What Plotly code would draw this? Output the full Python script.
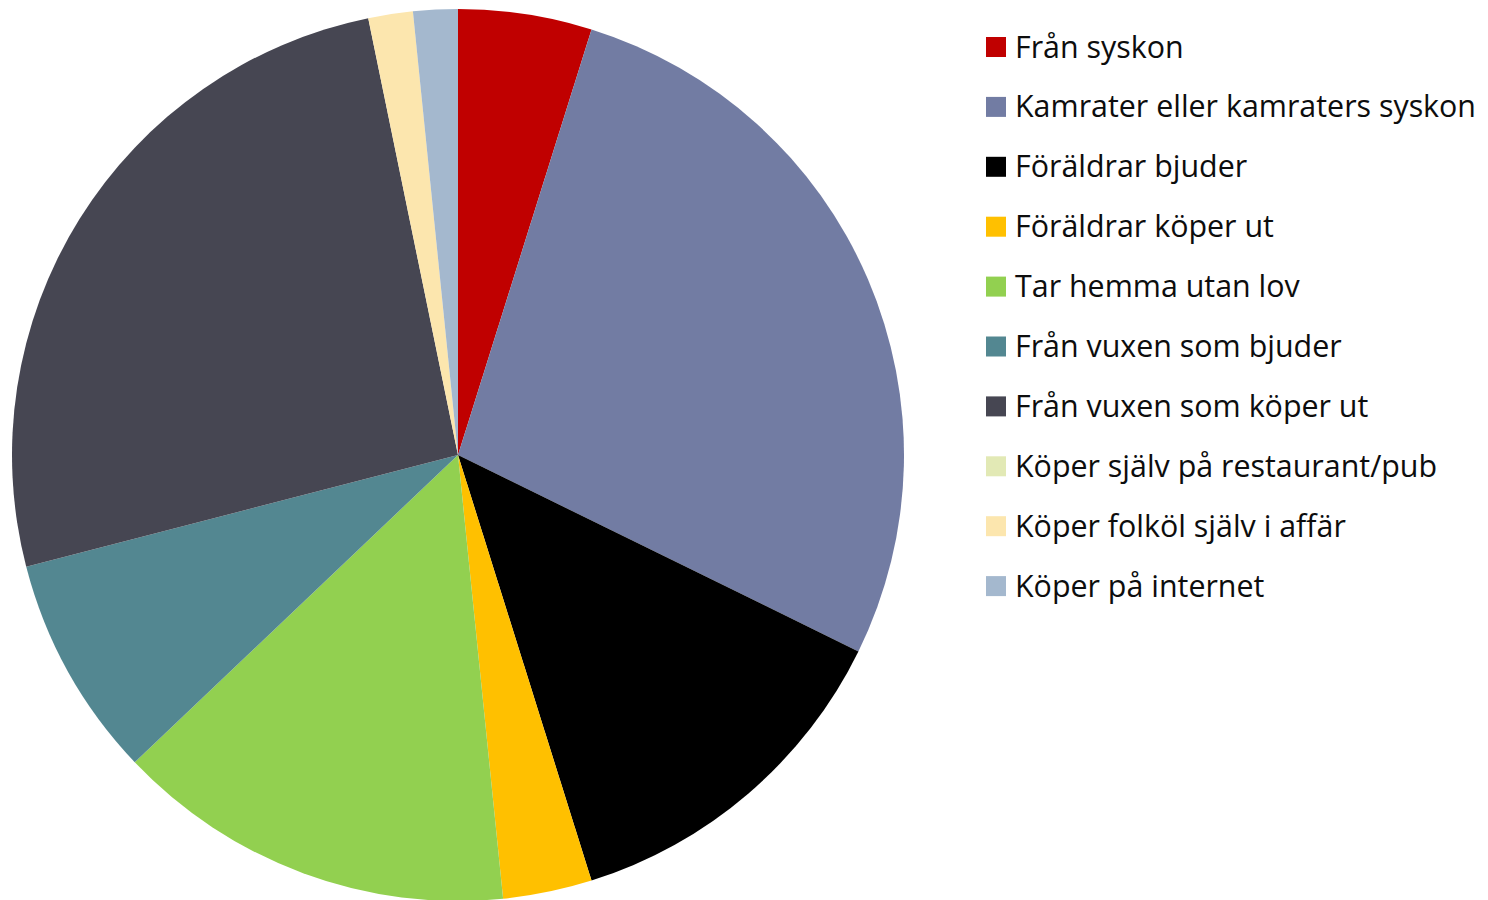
import plotly.graph_objects as go

labels = ["Från syskon", "Kamrater eller kamraters syskon", "Föräldrar bjuder",
          "Föräldrar köper ut", "Tar hemma utan lov", "Från vuxen som bjuder",
          "Från vuxen som köper ut", "Köper själv på restaurant/pub",
          "Köper folköl själv i affär", "Köper på internet"]
values = [3, 17, 8, 2, 9, 5, 16, 0, 1, 1]
colors = ["#C00000", "#727CA3", "#000000", "#FFC000", "#92D050", "#538791",
          "#464652", "#E2E9B5", "#FCE6AE", "#A4B8CE"]

W, H = 1488, 900
off = 8  # page body margin offset
cx, cy, r = 458 - off, 455 - off, 446

fig = go.Figure(go.Pie(
    labels=labels, values=values, sort=False, direction="clockwise", rotation=0,
    marker=dict(colors=colors, line=dict(width=0)), textinfo="none",
    hoverinfo="label+value+percent", showlegend=False,
    domain=dict(x=[(cx - r) / W, (cx + r) / W], y=[max(0, (H - cy - r) / H), (H - cy + r) / H]),
))

# manual legend (fixed 60px row spacing as in reference)
y0, dy = 47 - off, 59.9
shapes, annotations = [], []
for i, (lab, col) in enumerate(zip(labels, colors)):
    yc = y0 + i * dy
    shapes.append(dict(type="rect", xref="paper", yref="paper",
                       x0=(986 - off) / W, x1=(1006 - off) / W,
                       y0=1 - (yc + 10) / H, y1=1 - (yc - 10) / H,
                       fillcolor=col, line=dict(width=0)))
    annotations.append(dict(text=lab, xref="paper", yref="paper", x=(1013 - off) / W,
                            y=1 - (yc - 1) / H,
                            xanchor="left", yanchor="middle", showarrow=False,
                            font=dict(family="Open Sans", size=30.4, color="#0D0D0D")))

fig.update_layout(width=W, height=H, margin=dict(l=0, r=0, t=0, b=0),
                  paper_bgcolor="white", plot_bgcolor="white",
                  shapes=shapes, annotations=annotations)
fig.write_html("out.html")
